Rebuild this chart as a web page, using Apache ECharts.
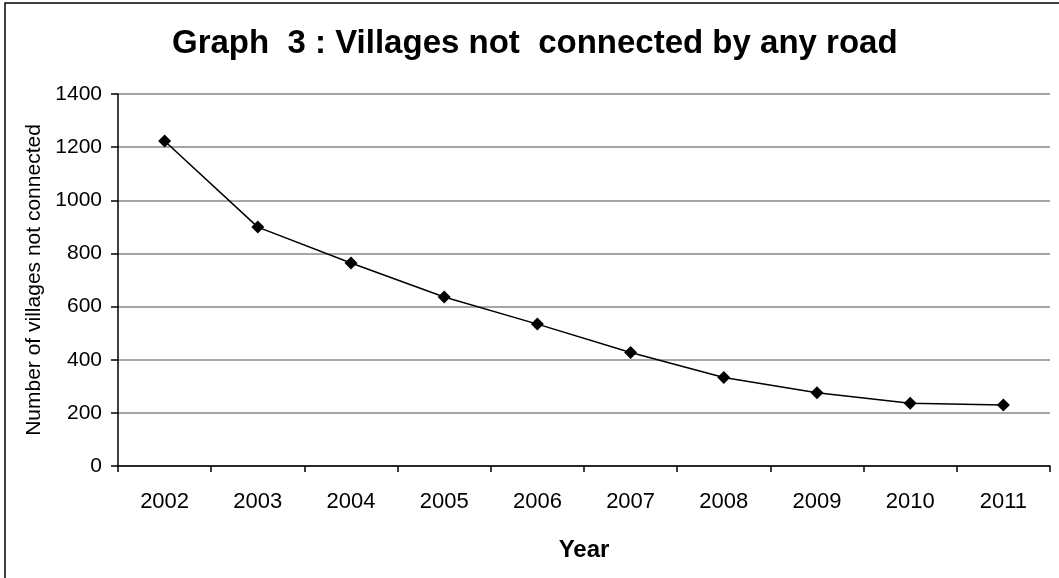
<!DOCTYPE html>
<html>
<head>
<meta charset="utf-8">
<script src="https://cdn.jsdelivr.net/npm/echarts@6/dist/echarts.min.js"></script>
<style>html,body{margin:0;padding:0;background:#fff}#c{width:1059px;height:578px}</style>
</head>
<body>
<div id="c"></div>
<script>
const years = ['2002','2003','2004','2005','2006','2007','2008','2009','2010','2011'];
const villagesNotConnected = [1223, 899, 764, 636, 534, 427, 333, 276, 236, 230];
const yTicks = {min: 0, max: 1400, interval: 200};

const FONT = 'Liberation Sans, Arial';
const chart = echarts.init(document.getElementById('c'), null, {renderer: 'canvas'});
chart.setOption({
  animation: false,
  backgroundColor: '#fff',
  title: {
    text: 'Graph  3 : Villages not  connected by any road',
    left: 172, top: 27, padding: 0,
    textStyle: {fontFamily: FONT, fontWeight: 'bold', fontSize: 33, color: '#000'}
  },
  graphic: [{
    type: 'rect', shape: {x: 5, y: 3, width: 1200, height: 700},
    style: {fill: 'none', stroke: '#000', lineWidth: 1.5}, silent: true
  }],
  grid: {left: 118, right: 9, top: 94, bottom: 112, containLabel: false},
  xAxis: {
    type: 'category', data: years, boundaryGap: true,
    name: 'Year', nameLocation: 'middle', nameGap: 72,
    nameTextStyle: {fontFamily: FONT, fontWeight: 'bold', fontSize: 24, color: '#000'},
    axisLine: {lineStyle: {color: '#000', width: 1.5}},
    axisTick: {show: true, alignWithLabel: false, length: 6, lineStyle: {color: '#000', width: 1.5}},
    axisLabel: {fontFamily: FONT, fontSize: 22, color: '#000', margin: 25},
    splitLine: {show: false}
  },
  yAxis: {
    type: 'value', min: yTicks.min, max: yTicks.max, interval: yTicks.interval,
    name: 'Number of villages not connected', nameLocation: 'middle', nameGap: 69,
    nameTextStyle: {fontFamily: FONT, fontSize: 21, color: '#000'},
    axisLine: {show: true, lineStyle: {color: '#000', width: 1.5}},
    axisTick: {show: true, length: 7, lineStyle: {color: '#000', width: 1.5}},
    axisLabel: {fontFamily: FONT, fontSize: 21, color: '#000', margin: 16, formatter: v => String(v)},
    splitLine: {show: true, lineStyle: {color: '#888', width: 1.5}}
  },
  series: [{
    type: 'line', data: villagesNotConnected,
    symbol: 'diamond', symbolSize: 13,
    lineStyle: {color: '#000', width: 1.5},
    itemStyle: {color: '#000'}
  }]
});
</script>
</body>
</html>
